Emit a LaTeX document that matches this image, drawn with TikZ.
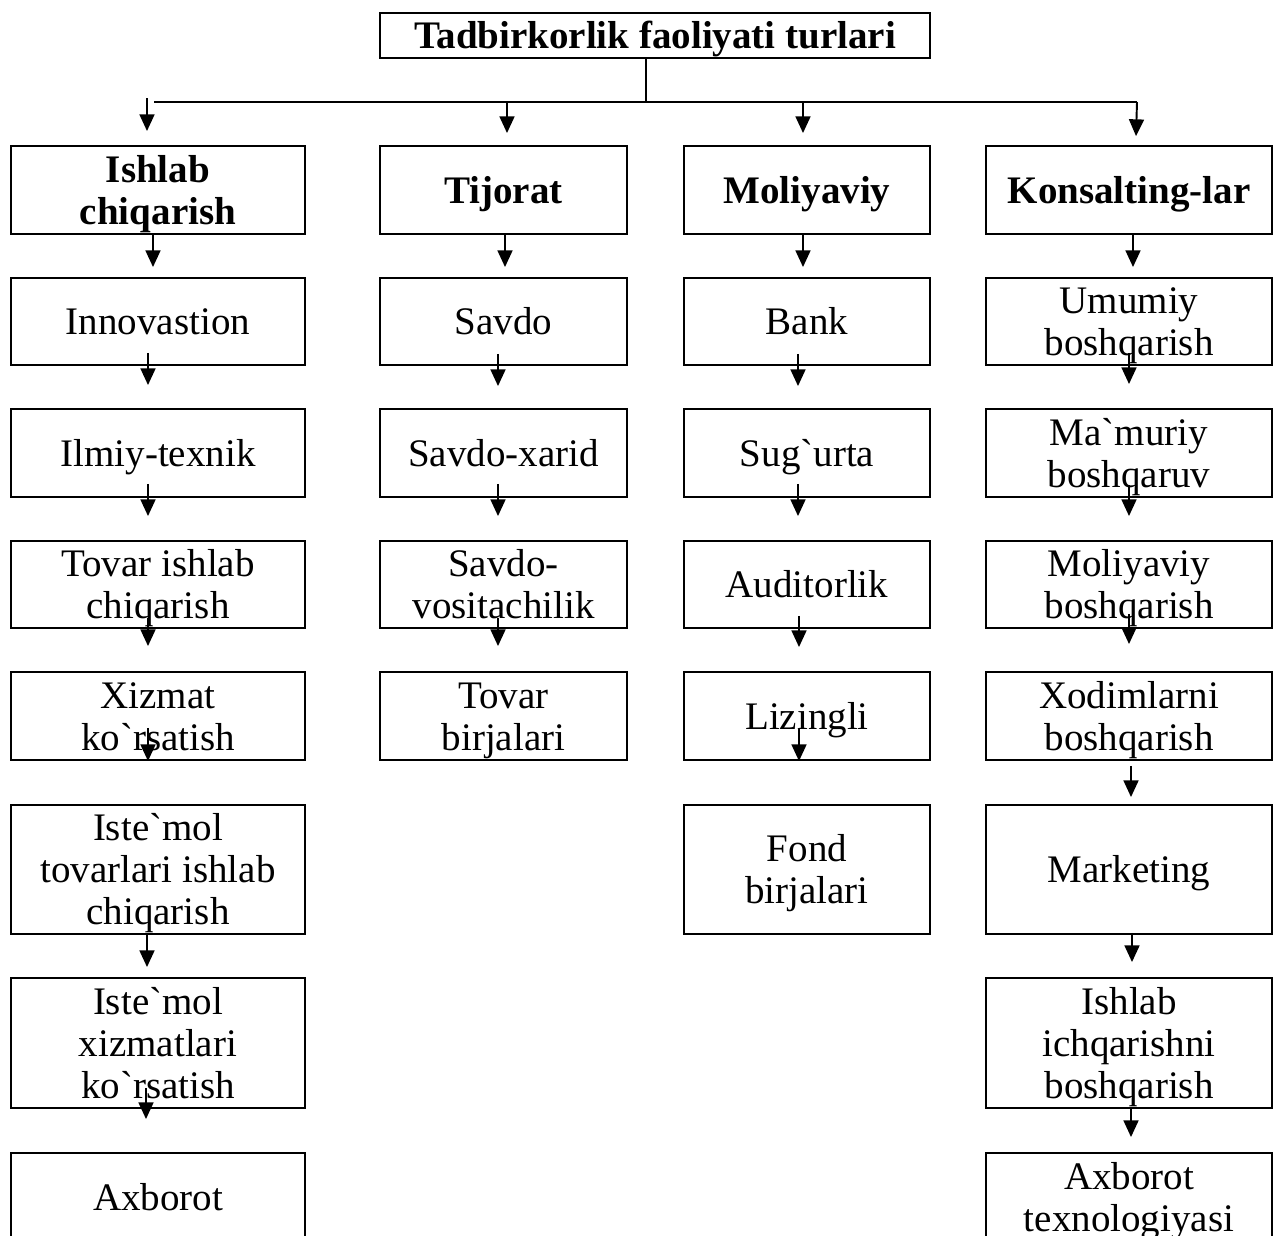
\documentclass[tikz,border=0pt]{standalone}
\usepackage{fontspec}
\setmainfont{Liberation Serif}
\usetikzlibrary{arrows.meta}

\newcommand{\bq}{\textasciigrave}
% word-like line box: ascent and descent of the font
\newcommand{\tl}[1]{\rule{0pt}{0.891em}#1\rule[-0.216em]{0pt}{0.216em}}

\begin{document}
\begin{tikzpicture}[x=0.02cm, y=-0.02cm, line width=1.1pt,
  box/.style={draw, rectangle, inner sep=0pt, align=center,
    font=\fontsize{22.2}{23.9}\selectfont},
  head/.style={box, font=\fontsize{22.2}{23.9}\selectfont\bfseries},
  arr/.style={-{Triangle[width=8.5pt, length=9.5pt]}}]
  \useasboundingbox (0,0) rectangle (1274,1236);
  \clip (0,0) rectangle (1274,1236);

  \node[head, minimum width=11cm, minimum height=0.9cm] (T) at (655,35.5) {\tl{Tadbirkorlik faoliyati turlari}};

  % Ishlab chiqarish
  \node[head, minimum width=5.88cm, minimum height=1.76cm] (I0) at (158,190) {\tl{Ishlab\\chiqarish}};
  \node[box, minimum width=5.88cm, minimum height=1.74cm] (I1) at (158,321.5) {\tl{Innovastion}};
  \node[box, minimum width=5.88cm, minimum height=1.76cm] (I2) at (158,453) {\tl{Ilmiy-texnik}};
  \node[box, minimum width=5.88cm, minimum height=1.74cm] (I3) at (158,584.5) {\tl{Tovar ishlab\\chiqarish}};
  \node[box, minimum width=5.88cm, minimum height=1.76cm] (I4) at (158,716) {\tl{Xizmat\\ko\bq rsatish}};
  \node[box, minimum width=5.88cm, minimum height=2.58cm] (I5) at (158,869.5) {\tl{Iste\bq mol\\tovarlari ishlab\\chiqarish}};
  \node[box, minimum width=5.88cm, minimum height=2.6cm] (I6) at (158,1043) {\tl{Iste\bq mol\\xizmatlari\\ko\bq rsatish}};
  \node[box, minimum width=5.88cm, minimum height=1.76cm] (I7) at (158,1197) {\tl{Axborot}};

  % Tijorat
  \node[head, minimum width=4.94cm, minimum height=1.76cm] (J0) at (503.5,190) {\tl{Tijorat}};
  \node[box, minimum width=4.94cm, minimum height=1.74cm] (J1) at (503.5,321.5) {\tl{Savdo}};
  \node[box, minimum width=4.94cm, minimum height=1.76cm] (J2) at (503.5,453) {\tl{Savdo-xarid}};
  \node[box, minimum width=4.94cm, minimum height=1.74cm] (J3) at (503.5,584.5) {\tl{Savdo-\\vositachilik}};
  \node[box, minimum width=4.94cm, minimum height=1.76cm] (J4) at (503.5,716) {\tl{Tovar\\birjalari}};

  % Moliyaviy
  \node[head, minimum width=4.92cm, minimum height=1.76cm] (M0) at (807,190) {\tl{Moliyaviy}};
  \node[box, minimum width=4.92cm, minimum height=1.74cm] (M1) at (807,321.5) {\tl{Bank}};
  \node[box, minimum width=4.92cm, minimum height=1.76cm] (M2) at (807,453) {\tl{Sug\bq urta}};
  \node[box, minimum width=4.92cm, minimum height=1.74cm] (M3) at (807,584.5) {\tl{Auditorlik}};
  \node[box, minimum width=4.92cm, minimum height=1.76cm] (M4) at (807,716) {\tl{Lizingli}};
  \node[box, minimum width=4.92cm, minimum height=2.58cm] (M5) at (807,869.5) {\tl{Fond\\birjalari}};

  % Konsalting
  \node[head, minimum width=5.72cm, minimum height=1.76cm] (K0) at (1129,190) {\tl{Konsalting-lar}};
  \node[box, minimum width=5.72cm, minimum height=1.74cm] (K1) at (1129,321.5) {\tl{Umumiy\\boshqarish}};
  \node[box, minimum width=5.72cm, minimum height=1.76cm] (K2) at (1129,453) {\tl{Ma\bq muriy\\boshqaruv}};
  \node[box, minimum width=5.72cm, minimum height=1.74cm] (K3) at (1129,584.5) {\tl{Moliyaviy\\boshqarish}};
  \node[box, minimum width=5.72cm, minimum height=1.76cm] (K4) at (1129,716) {\tl{Xodimlarni\\boshqarish}};
  \node[box, minimum width=5.72cm, minimum height=2.58cm] (K5) at (1129,869.5) {\tl{Marketing}};
  \node[box, minimum width=5.72cm, minimum height=2.6cm] (K6) at (1129,1043) {\tl{Ishlab\\ichqarishni\\boshqarish}};
  \node[box, minimum width=5.72cm, minimum height=1.76cm] (K7) at (1129,1197) {\tl{Axborot\\texnologiyasi}};

  % top branching
  \coordinate (bus) at (646,102);
  \coordinate (busL) at (154,102);
  \coordinate (busR) at (1137,102);
  \draw (T.south -| bus) -- (bus);
  \draw (busL) -- (busR);
  \draw[arr] ([shift={(-11,-47)}]I0.north) -- ([shift={(-11,-14)}]I0.north);
  \draw[arr] (J0.north |- bus) ++(3.5,0) -- ([shift={(3.5,-12)}]J0.north);
  \draw[arr] (M0.north |- bus) ++(-4,0) -- ([shift={(-4,-12)}]M0.north);
  \draw[arr] (busR) -- ([shift={(7,-9)}]K0.north);

  % Ishlab chiqarish arrows
  \draw[arr] ([shift={(-5,0)}]I0.south) -- ([shift={(-5,-10)}]I1.north);
  \draw[arr] ([shift={(-10,-13)}]I1.south) -- ([shift={(-10,-23)}]I2.north);
  \draw[arr] ([shift={(-10,-14)}]I2.south) -- ([shift={(-10,-24)}]I3.north);
  \draw[arr] ([shift={(-10,-11)}]I3.south) -- ([shift={(-10,-25)}]I4.north);
  \draw[arr] ([shift={(-10,-33)}]I4.south) -- ([shift={(-10,-43)}]I5.north);
  \draw[arr] ([shift={(-11,-1)}]I5.south) -- ([shift={(-11,-10)}]I6.north);
  \draw[arr] ([shift={(-12,-21)}]I6.south) -- ([shift={(-12,-33)}]I7.north);

  % Tijorat arrows
  \draw[arr] ([shift={(1.5,0)}]J0.south) -- ([shift={(1.5,-10)}]J1.north);
  \draw[arr] ([shift={(-5.5,-12)}]J1.south) -- ([shift={(-5.5,-22)}]J2.north);
  \draw[arr] ([shift={(-5.5,-14)}]J2.south) -- ([shift={(-5.5,-24)}]J3.north);
  \draw[arr] ([shift={(-5.5,-11)}]J3.south) -- ([shift={(-5.5,-25)}]J4.north);

  % Moliyaviy arrows
  \draw[arr] ([shift={(-4,0)}]M0.south) -- ([shift={(-4,-10)}]M1.north);
  \draw[arr] ([shift={(-9,-12)}]M1.south) -- ([shift={(-9,-22)}]M2.north);
  \draw[arr] ([shift={(-9,-14)}]M2.south) -- ([shift={(-9,-24)}]M3.north);
  \draw[arr] ([shift={(-8,-13)}]M3.south) -- ([shift={(-8,-24)}]M4.north);
  \draw[arr] ([shift={(-8,-32)}]M4.south) -- ([shift={(-8,-43)}]M5.north);

  % Konsalting arrows
  \draw[arr] ([shift={(4,0)}]K0.south) -- ([shift={(4,-10)}]K1.north);
  \draw[arr] ([shift={(0,-13)}]K1.south) -- ([shift={(0,-24)}]K2.north);
  \draw[arr] ([shift={(0,-13)}]K2.south) -- ([shift={(0,-24)}]K3.north);
  \draw[arr] ([shift={(0,-15)}]K3.south) -- ([shift={(0,-27)}]K4.north);
  \draw[arr] ([shift={(2,5)}]K4.south) -- ([shift={(2,-7)}]K5.north);
  \draw[arr] ([shift={(3,-2)}]K5.south) -- ([shift={(3,-15)}]K6.north);
  \draw[arr] ([shift={(2,-1)}]K6.south) -- ([shift={(2,-15)}]K7.north);
\end{tikzpicture}
\end{document}
